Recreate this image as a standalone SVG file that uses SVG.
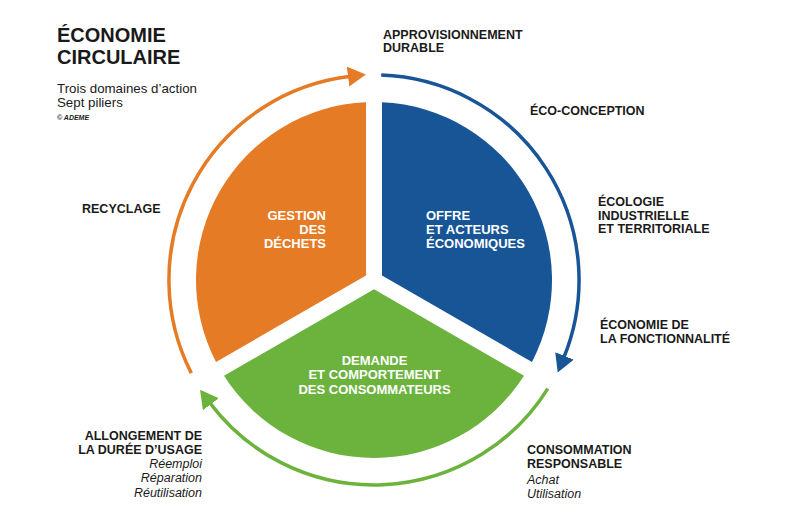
<svg xmlns="http://www.w3.org/2000/svg" width="800" height="530" viewBox="0 0 800 530">
<style>
.t{font-family:"Liberation Sans",Arial,sans-serif;fill:#1a1a1a}
.title{font-size:20px;font-weight:bold}
.sub{font-size:13.3px}
.lab{font-size:12.5px;font-weight:bold}
.it{font-size:12.5px;font-style:italic}
.in{font-family:"Liberation Sans",Arial,sans-serif;font-size:13px;font-weight:bold;fill:#fff}
.arc{fill:none;stroke-width:3.5}
</style>
<defs>
<marker id="mo" markerUnits="userSpaceOnUse" markerWidth="20" markerHeight="22" refX="1" refY="10" orient="auto"><path d="M0,0 L18,10 L0,20 Z" fill="#E57B25"/></marker>
<marker id="mb" markerUnits="userSpaceOnUse" markerWidth="20" markerHeight="22" refX="1" refY="10" orient="auto"><path d="M0,0 L18,10 L0,20 Z" fill="#185597"/></marker>
<marker id="mg" markerUnits="userSpaceOnUse" markerWidth="20" markerHeight="22" refX="1" refY="10" orient="auto"><path d="M0,0 L18,10 L0,20 Z" fill="#6CB33E"/></marker>
</defs>
<rect width="800" height="530" fill="#fff"/>

<g id="header">
<text class="t title" x="57" y="42">ÉCONOMIE</text>
<text class="t title" x="57" y="64">CIRCULAIRE</text>
<text class="t sub" x="57" y="93">Trois domaines d’action</text>
<text class="t sub" x="57" y="107">Sept piliers</text>
<text class="t" x="57" y="120" font-size="7" font-style="italic" font-weight="bold">© ADEME</text>
</g>

<g id="gestion">
<path d="M366,275.4 L366,102.2 A178,178 0 0 0 216,362 Z" fill="#E57B25"/>
<text class="in" text-anchor="end"><tspan x="326" y="219.5">GESTION</tspan><tspan x="326" y="233.5">DES</tspan><tspan x="326" y="247.5">DÉCHETS</tspan></text>
</g>
<g id="offre">
<path d="M382,275.4 L382,102.2 A178,178 0 0 1 532,362 Z" fill="#185597"/>
<text class="in"><tspan x="426" y="219.5">OFFRE</tspan><tspan x="426" y="233.5">ET ACTEURS</tspan><tspan x="426" y="247.5">ÉCONOMIQUES</tspan></text>
</g>
<g id="demande">
<path d="M374,289.2 L524,375.8 A178,178 0 0 1 224,375.8 Z" fill="#6CB33E"/>
<text class="in" text-anchor="middle"><tspan x="374.5" y="365">DEMANDE</tspan><tspan x="374.5" y="379.3">ET COMPORTEMENT</tspan><tspan x="374.5" y="393.5">DES CONSOMMATEURS</tspan></text>
</g>

<g id="connectors">
<path class="arc" stroke="#E57B25" d="M191.3,373.1 A205,205 0 0 1 349,76.5" marker-end="url(#mo)"/>
<path class="arc" stroke="#185597" d="M381.2,75.1 A205,205 0 0 1 564.1,356.8" marker-end="url(#mb)"/>
<path class="arc" stroke="#6CB33E" d="M547.8,388.6 A205,205 0 0 1 210.3,403.4" marker-end="url(#mg)"/>
</g>

<g id="approvisionnement">
<text class="t lab"><tspan x="383" y="39">APPROVISIONNEMENT</tspan><tspan x="383" y="52">DURABLE</tspan></text>
</g>
<g id="eco-conception">
<text class="t lab" x="530" y="115">ÉCO-CONCEPTION</text>
</g>
<g id="ecologie">
<text class="t lab"><tspan x="598" y="206">ÉCOLOGIE</tspan><tspan x="598" y="219.5">INDUSTRIELLE</tspan><tspan x="598" y="233.3">ET TERRITORIALE</tspan></text>
</g>
<g id="fonctionnalite">
<text class="t lab"><tspan x="600" y="328.5">ÉCONOMIE DE</tspan><tspan x="600" y="342.7">LA FONCTIONNALITÉ</tspan></text>
</g>
<g id="consommation">
<text class="t lab"><tspan x="527" y="454">CONSOMMATION</tspan><tspan x="527" y="468.3">RESPONSABLE</tspan></text>
<text class="t it"><tspan x="527" y="484.3">Achat</tspan><tspan x="527" y="498.3">Utilisation</tspan></text>
</g>
<g id="allongement">
<text class="t lab" text-anchor="end"><tspan x="202" y="440">ALLONGEMENT DE</tspan><tspan x="202" y="454.3">LA DURÉE D’USAGE</tspan></text>
<text class="t it" text-anchor="end"><tspan x="202" y="468.3">Réemploi</tspan><tspan x="202" y="482.3">Réparation</tspan><tspan x="202" y="496.7">Réutilisation</tspan></text>
</g>
<g id="recyclage">
<text class="t lab" x="82" y="213.3">RECYCLAGE</text>
</g>
</svg>
